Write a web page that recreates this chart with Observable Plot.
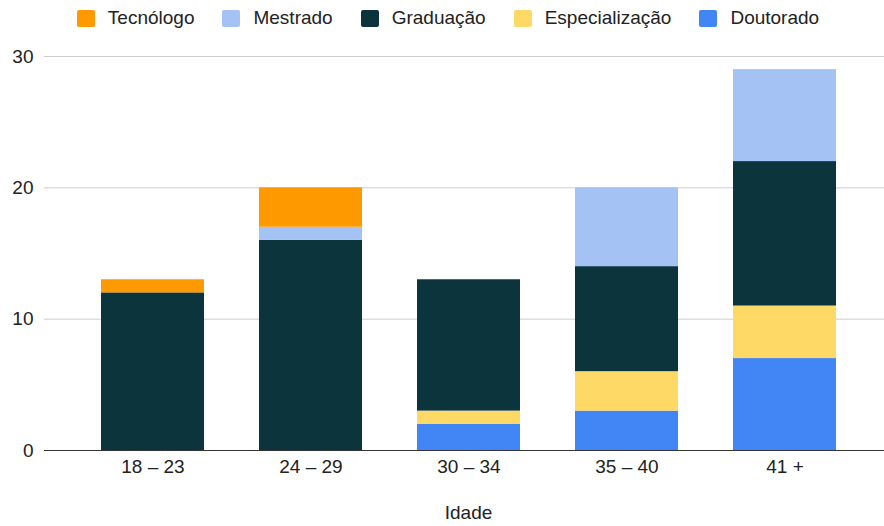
<!DOCTYPE html>
<html>
<head>
<meta charset="utf-8">
<script src="https://cdn.jsdelivr.net/npm/d3@7"></script>
<script src="https://cdn.jsdelivr.net/npm/@observablehq/plot@0.6"></script>
<style>
  html, body { margin: 0; padding: 0; background: #fff; }
  #wrap { position: relative; width: 884px; height: 526px; font-family: "Liberation Sans", Arial, sans-serif; }
  #legend { position: absolute; top: 0; left: 0; width: 884px; height: 36px; display: flex; align-items: center; justify-content: center; font-size: 19px; color: #222; padding-left: 12px; box-sizing: border-box; }
  .item { display: flex; align-items: center; margin: 0 14px; }
  .sw { width: 18px; height: 17px; border-radius: 2px; margin-right: 13px; }
  #chart { position: absolute; top: 0; left: 0; }
</style>
</head>
<body>
<div id="wrap">
  <div id="chart"></div>
  <div id="legend"></div>
</div>
<script>
const categories = ["18 – 23", "24 – 29", "30 – 34", "35 – 40", "41 +"];
const seriesNames = ["Doutorado", "Especialização", "Graduação", "Mestrado", "Tecnólogo"];
const doutorado      = [0, 0, 2, 3, 7];
const especializacao = [0, 0, 1, 3, 4];
const graduacao      = [12, 16, 10, 8, 11];
const mestrado       = [0, 1, 0, 6, 7];
const tecnologo      = [1, 3, 0, 0, 0];
const colors = ["#4285f4", "#ffd966", "#0c343d", "#a4c2f4", "#ff9900"];
const legendOrder = ["Tecnólogo", "Mestrado", "Graduação", "Especialização", "Doutorado"];
const yTicks = [0, 10, 20, 30];
const xLabel = "Idade";

const seriesValues = [doutorado, especializacao, graduacao, mestrado, tecnologo];
const data = [];
categories.forEach((c, i) => {
  seriesNames.forEach((s, j) => {
    data.push({idade: c, serie: s, valor: seriesValues[j][i]});
  });
});

const legend = document.getElementById("legend");
legendOrder.forEach(name => {
  const it = document.createElement("div");
  it.className = "item";
  const sw = document.createElement("span");
  sw.className = "sw";
  sw.style.background = colors[seriesNames.indexOf(name)];
  const t = document.createElement("span");
  t.textContent = name;
  it.appendChild(sw); it.appendChild(t);
  legend.appendChild(it);
});

const plot = Plot.plot({
  width: 884,
  height: 526,
  marginTop: 56,
  marginBottom: 76,
  marginLeft: 44,
  marginRight: 0,
  style: {fontFamily: "'Liberation Sans', Arial, sans-serif", fontSize: "19px", color: "#222", background: "#fff"},
  x: {domain: categories, paddingInner: 0.35, paddingOuter: 0.325, align: 0.544, label: null},
  y: {domain: [0, 30], label: null},
  color: {domain: seriesNames, range: colors},
  marks: [
    Plot.gridY(yTicks, {stroke: "#cccccc", strokeOpacity: 1, strokeWidth: 1}),
    Plot.axisY(yTicks, {tickSize: 0, tickPadding: 11, label: null, fontSize: 19}),
    Plot.barY(data, Plot.stackY({x: "idade", y: "valor", fill: "serie", order: seriesNames})),
    Plot.ruleY([0], {stroke: "#333333", strokeWidth: 1}),
    Plot.axisX({tickSize: 0, tickPadding: 9, label: null, fontSize: 19}),
    Plot.text([xLabel], {frameAnchor: "bottom", dy: 68, dx: 4, fontSize: 19, fill: "#222"})
  ]
});
document.getElementById("chart").appendChild(plot);
</script>
</body>
</html>
